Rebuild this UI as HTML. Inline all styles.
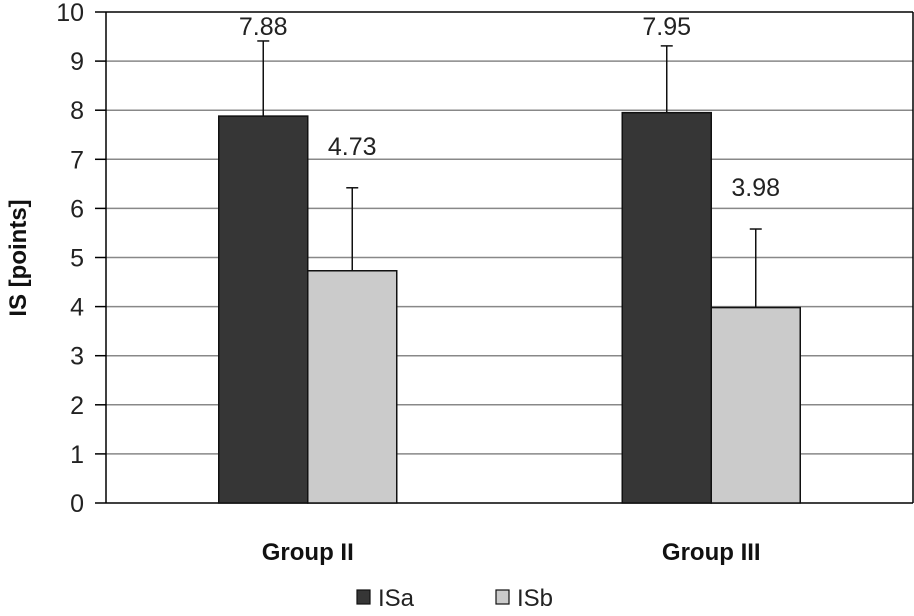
<!DOCTYPE html>
<html><head><meta charset="utf-8"><style>
body{margin:0;background:#fff;}
svg text{font-family:"Liberation Sans","DejaVu Sans",sans-serif;}
</style></head><body>
<svg id="chart" width="914" height="611" viewBox="0 0 914 611" xmlns="http://www.w3.org/2000/svg"></svg>
<script>
const categories = ["Group II", "Group III"];
const isaValues = [7.88, 7.95];
const isbValues = [4.73, 3.98];
const isaErrors = [1.53, 1.36];
const isbErrors = [1.69, 1.60];
const yTicks = [0,1,2,3,4,5,6,7,8,9,10];

const svg = document.getElementById('chart');
const NS = 'http://www.w3.org/2000/svg';
const L = 106, R = 913, T = 12, B = 503, yMax = 10;
const y = v => B - (B - T) * v / yMax;
const catW = (R - L) / categories.length;
const xc = i => L + catW * (i + 0.5);
const bw = 89;
function mk(tag, attrs, txt){const e=document.createElementNS(NS,tag);for(const k in attrs)e.setAttribute(k,attrs[k]);if(txt!==undefined)e.textContent=txt;svg.appendChild(e);return e;}

yTicks.forEach(t=>{
  const g = mk('line',{x1:L,x2:R,y1:y(t),y2:y(t),stroke:t===0||t===10?'#000':'#888','stroke-width':1.5});
  
  
  const tk = mk('line',{x1:95,x2:L,y1:y(t),y2:y(t),stroke:'#000','stroke-width':1.5});
  
  
  const lb = mk('text',{x:84,y:y(t)+9,'text-anchor':'end','font-size':25,fill:'#222'},String(t));
  
  
});
const ax = mk('line',{x1:L,x2:L,y1:T,y2:B,stroke:'#000','stroke-width':1.5});


const rb = mk('line',{x1:R,x2:R,y1:T,y2:B,stroke:'#000','stroke-width':1.5});



function drawSeries(vals, errs, offset, fill, name){
  vals.forEach((v,i)=>{
    const x0 = xc(i) + offset;
    const r = mk('rect',{x:x0,y:y(v),width:bw,height:B-y(v),fill:fill,stroke:'#111','stroke-width':1.5});
    
    
    const cx = x0 + bw/2, top = y(v+errs[i]);
    const e = mk('line',{x1:cx,x2:cx,y1:y(v),y2:top,stroke:'#111','stroke-width':1.5});
    
    
    const c = mk('line',{x1:cx-6,x2:cx+6,y1:top,y2:top,stroke:'#111','stroke-width':1.5});
    
    
    const ly = Math.max(35, top - 33);
    const t = mk('text',{x:cx,y:ly,'text-anchor':'middle','font-size':25,fill:'#222'},v.toFixed(2));
    
    
  });
}
drawSeries(isaValues, isaErrors, -bw, '#363636', 'isa');
drawSeries(isbValues, isbErrors, 0, '#cbcbcb', 'isb');

categories.forEach((c,i)=>{
  const t = mk('text',{x:xc(i),y:560,'text-anchor':'middle','font-size':24,'font-weight':'bold',fill:'#111'},c);
  
  
});
const yt = mk('text',{x:0,y:0,'text-anchor':'middle','font-size':24,'font-weight':'bold',fill:'#111',transform:'translate(26,258) rotate(-90)'},'IS [points]');



const l1 = mk('rect',{x:357,y:590,width:13,height:14,fill:'#363636',stroke:'#111','stroke-width':1.2});


const l1t = mk('text',{x:378,y:606,'font-size':24,fill:'#222'},'ISa');


const l2 = mk('rect',{x:496,y:590,width:13,height:14,fill:'#cbcbcb',stroke:'#111','stroke-width':1.2});


const l2t = mk('text',{x:517,y:606,'font-size':24,fill:'#222'},'ISb');


</script>
</body></html>
